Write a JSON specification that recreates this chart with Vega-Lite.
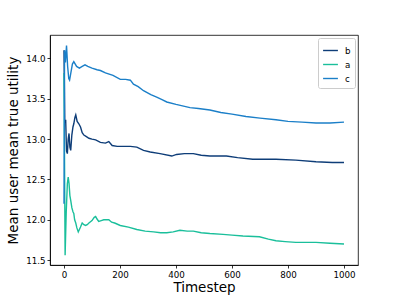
{
  "$schema": "https://vega.github.io/schema/vega-lite/v6.json",
  "width": 308,
  "height": 230,
  "autosize": {"type": "none"},
  "padding": {"left": 50, "top": 35, "right": 41, "bottom": 34},
  "background": "white",
  "config": {
    "view": {"stroke": "black", "strokeWidth": 0.8},
    "font": "DejaVu Sans",
    "axis": {"grid": false, "domainColor": "black", "tickColor": "black", "labelColor": "black", "titleColor": "black", "labelFont": "DejaVu Sans", "titleFont": "DejaVu Sans", "labelFontSize": 8.7, "titleFontSize": 13.5, "titleFontWeight": "normal", "tickSize": 3, "labelPadding": 2, "domainWidth": 0.8, "tickWidth": 0.8}
  },
  "data": {
    "values": [
      {"t":0,"s":"b","v":14.1},{"t":3,"s":"b","v":13.2},{"t":6,"s":"b","v":13.24},{"t":9,"s":"b","v":12.85},{"t":12,"s":"b","v":12.82},{"t":15,"s":"b","v":13.0},{"t":18,"s":"b","v":13.07},{"t":21,"s":"b","v":12.9},{"t":24,"s":"b","v":12.86},{"t":28,"s":"b","v":13.05},{"t":32,"s":"b","v":13.15},{"t":35,"s":"b","v":13.19},{"t":39,"s":"b","v":13.27},{"t":42,"s":"b","v":13.3},{"t":47,"s":"b","v":13.22},{"t":53,"s":"b","v":13.19},{"t":59,"s":"b","v":13.15},{"t":65,"s":"b","v":13.08},{"t":71,"s":"b","v":13.05},{"t":80,"s":"b","v":13.03},{"t":89,"s":"b","v":13.01},{"t":100,"s":"b","v":13.0},{"t":113,"s":"b","v":12.99},{"t":130,"s":"b","v":12.96},{"t":148,"s":"b","v":12.95},{"t":160,"s":"b","v":12.97},{"t":172,"s":"b","v":12.92},{"t":190,"s":"b","v":12.91},{"t":210,"s":"b","v":12.91},{"t":237,"s":"b","v":12.91},{"t":260,"s":"b","v":12.9},{"t":284,"s":"b","v":12.86},{"t":308,"s":"b","v":12.84},{"t":343,"s":"b","v":12.82},{"t":385,"s":"b","v":12.79},{"t":402,"s":"b","v":12.81},{"t":430,"s":"b","v":12.82},{"t":462,"s":"b","v":12.82},{"t":490,"s":"b","v":12.8},{"t":521,"s":"b","v":12.79},{"t":580,"s":"b","v":12.79},{"t":620,"s":"b","v":12.77},{"t":674,"s":"b","v":12.75},{"t":757,"s":"b","v":12.75},{"t":828,"s":"b","v":12.74},{"t":900,"s":"b","v":12.72},{"t":958,"s":"b","v":12.71},{"t":1000,"s":"b","v":12.71},
      {"t":0,"s":"a","v":13.82},{"t":4,"s":"a","v":11.56},{"t":8,"s":"a","v":12.1},{"t":12,"s":"a","v":12.45},{"t":15,"s":"a","v":12.53},{"t":18,"s":"a","v":12.45},{"t":21,"s":"a","v":12.3},{"t":24,"s":"a","v":12.24},{"t":28,"s":"a","v":12.15},{"t":32,"s":"a","v":12.1},{"t":35,"s":"a","v":12.08},{"t":38,"s":"a","v":12.0},{"t":42,"s":"a","v":11.96},{"t":46,"s":"a","v":11.9},{"t":51,"s":"a","v":11.85},{"t":55,"s":"a","v":11.88},{"t":59,"s":"a","v":11.91},{"t":65,"s":"a","v":11.96},{"t":71,"s":"a","v":11.94},{"t":77,"s":"a","v":11.93},{"t":83,"s":"a","v":11.94},{"t":89,"s":"a","v":11.96},{"t":100,"s":"a","v":11.99},{"t":108,"s":"a","v":12.03},{"t":113,"s":"a","v":12.04},{"t":118,"s":"a","v":12.01},{"t":124,"s":"a","v":11.98},{"t":133,"s":"a","v":11.99},{"t":142,"s":"a","v":12.0},{"t":160,"s":"a","v":12.0},{"t":170,"s":"a","v":11.97},{"t":181,"s":"a","v":11.96},{"t":201,"s":"a","v":11.93},{"t":230,"s":"a","v":11.91},{"t":260,"s":"a","v":11.88},{"t":290,"s":"a","v":11.86},{"t":320,"s":"a","v":11.85},{"t":345,"s":"a","v":11.84},{"t":367,"s":"a","v":11.84},{"t":390,"s":"a","v":11.85},{"t":414,"s":"a","v":11.87},{"t":440,"s":"a","v":11.86},{"t":462,"s":"a","v":11.86},{"t":490,"s":"a","v":11.84},{"t":521,"s":"a","v":11.83},{"t":568,"s":"a","v":11.82},{"t":600,"s":"a","v":11.81},{"t":639,"s":"a","v":11.8},{"t":698,"s":"a","v":11.79},{"t":730,"s":"a","v":11.76},{"t":757,"s":"a","v":11.74},{"t":790,"s":"a","v":11.73},{"t":828,"s":"a","v":11.72},{"t":900,"s":"a","v":11.72},{"t":950,"s":"a","v":11.71},{"t":1000,"s":"a","v":11.7},
      {"t":0,"s":"c","v":12.2},{"t":2,"s":"c","v":14.1},{"t":5,"s":"c","v":13.95},{"t":9,"s":"c","v":14.16},{"t":13,"s":"c","v":13.9},{"t":17,"s":"c","v":13.75},{"t":20,"s":"c","v":13.73},{"t":24,"s":"c","v":13.81},{"t":30,"s":"c","v":13.93},{"t":35,"s":"c","v":13.96},{"t":45,"s":"c","v":13.9},{"t":55,"s":"c","v":13.88},{"t":65,"s":"c","v":13.9},{"t":75,"s":"c","v":13.92},{"t":85,"s":"c","v":13.9},{"t":100,"s":"c","v":13.88},{"t":118,"s":"c","v":13.86},{"t":130,"s":"c","v":13.85},{"t":148,"s":"c","v":13.82},{"t":175,"s":"c","v":13.79},{"t":201,"s":"c","v":13.74},{"t":220,"s":"c","v":13.74},{"t":237,"s":"c","v":13.73},{"t":248,"s":"c","v":13.68},{"t":265,"s":"c","v":13.65},{"t":284,"s":"c","v":13.6},{"t":310,"s":"c","v":13.55},{"t":331,"s":"c","v":13.52},{"t":350,"s":"c","v":13.49},{"t":367,"s":"c","v":13.46},{"t":400,"s":"c","v":13.43},{"t":450,"s":"c","v":13.39},{"t":480,"s":"c","v":13.38},{"t":521,"s":"c","v":13.36},{"t":560,"s":"c","v":13.33},{"t":600,"s":"c","v":13.31},{"t":650,"s":"c","v":13.28},{"t":700,"s":"c","v":13.26},{"t":757,"s":"c","v":13.24},{"t":800,"s":"c","v":13.22},{"t":850,"s":"c","v":13.21},{"t":900,"s":"c","v":13.2},{"t":950,"s":"c","v":13.2},{"t":1000,"s":"c","v":13.21}
    ]
  },
  "mark": {"type": "line", "strokeWidth": 1.4, "clip": true},
  "encoding": {
    "x": {"field": "t", "type": "quantitative", "title": "Timestep", "scale": {"domain": [-50, 1050], "nice": false, "zero": false}, "axis": {"values": [0, 200, 400, 600, 800, 1000], "format": "d", "titlePadding": 2}},
    "y": {"field": "v", "type": "quantitative", "title": "Mean user mean true utility", "scale": {"domain": [11.44, 14.29], "nice": false, "zero": false}, "axis": {"values": [11.5, 12.0, 12.5, 13.0, 13.5, 14.0], "format": ".1f", "titlePadding": 5}},
    "color": {"field": "s", "type": "nominal", "scale": {"domain": ["b", "a", "c"], "range": ["#0e3d78", "#1abf9b", "#1b7fc8"]}, "legend": {"title": null, "orient": "top-right", "offset": 3, "strokeColor": "#cccccc", "fillColor": "white", "padding": 4, "cornerRadius": 2, "symbolType": "stroke", "symbolSize": 220, "symbolStrokeWidth": 1.4, "labelFontSize": 8.7, "labelFont": "DejaVu Sans", "labelColor": "black", "rowPadding": 0, "labelOffset": 6}},
    "order": {"field": "t", "type": "quantitative"}
  }
}
